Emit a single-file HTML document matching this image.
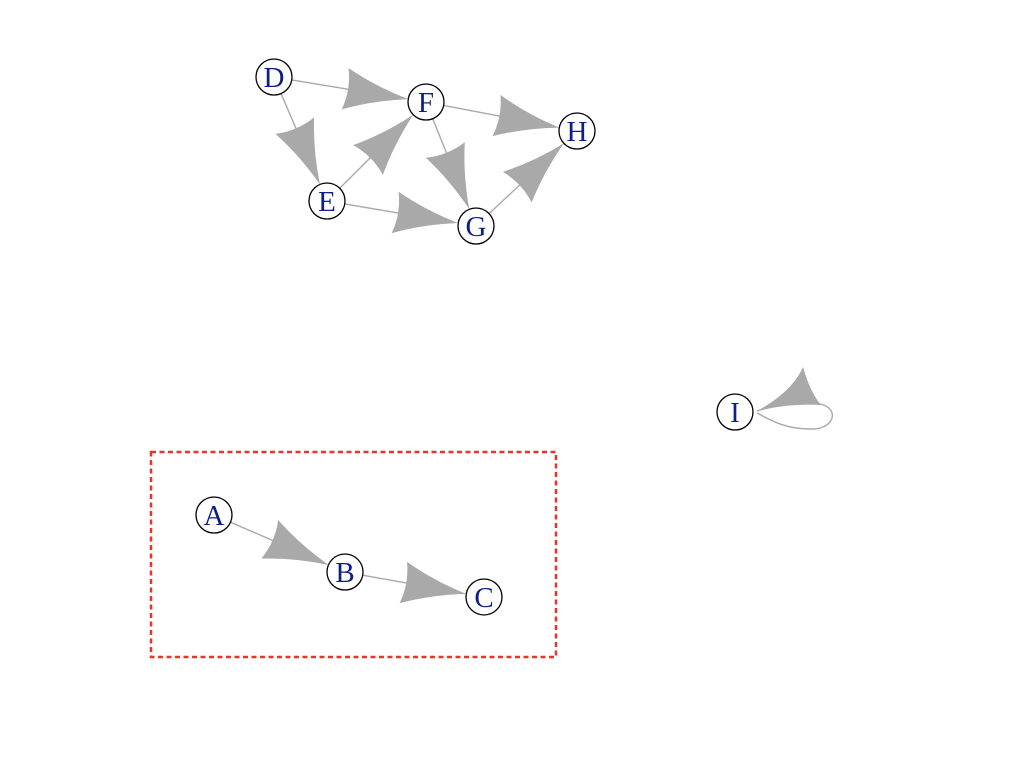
<!DOCTYPE html>
<html><head><meta charset="utf-8"><style>
html,body{margin:0;padding:0;background:#fff;}
svg{display:block;}
text{font-family:"Liberation Serif",serif;font-size:29px;fill:#0b1f86;text-anchor:middle;}
</style></head><body>
<svg id="s" width="1024" height="764" viewBox="0 0 1024 764" xmlns="http://www.w3.org/2000/svg">
<rect x="151" y="452" width="405" height="205" fill="none" stroke="#e8352a" stroke-width="2.5" stroke-dasharray="5,3.5"/>
<g id="edges"></g>
<path d="M757,411 Q792,392 803,367 Q810,392 821,405 Q790,403 757,411 Z" fill="#a9a9a9"/>
<path d="M757,411 Q790,400 820,404 C840,408 835,430 810,429 C785,429 770,420 757,413" fill="none" stroke="#a9a9a9" stroke-width="1.4"/>
<g id="nodes"></g>
</svg>
<script>
var N={D:[274,77],F:[426,102],H:[577,131],E:[327,201],G:[476,226],A:[214,515],B:[345,572],C:[484,597],I:[735,412]};
var E=[["D","F"],["D","E"],["E","F"],["E","G"],["F","G"],["F","H"],["G","H"],["A","B"],["B","C"]];
var r=18,eg="",ng="";
E.forEach(function(e){var a=N[e[0]],b=N[e[1]];var dx=b[0]-a[0],dy=b[1]-a[1],L=Math.hypot(dx,dy),ux=dx/L,uy=dy/L,nx=-uy,ny=ux;
var tx=b[0]-ux*r,ty=b[1]-uy*r,len=64,hw=21;var bx=tx-ux*len,by=ty-uy*len;
var sx=a[0]+ux*r,sy=a[1]+uy*r;
eg+='<line x1="'+sx+'" y1="'+sy+'" x2="'+(bx+ux*5)+'" y2="'+(by+uy*5)+'" stroke="#a9a9a9" stroke-width="1.4"/>';
var lx=bx+nx*hw,ly=by+ny*hw,rx=bx-nx*hw,ry=by-ny*hw;
var cx=tx-ux*34,cy=ty-uy*34;
var c1x=cx+nx*7,c1y=cy+ny*7,c2x=cx-nx*7,c2y=cy-ny*7;
var mx=bx+ux*6,my=by+uy*6;
eg+='<path d="M'+tx+','+ty+' Q'+c1x+','+c1y+' '+lx+','+ly+' Q'+mx+','+my+' '+rx+','+ry+' Q'+c2x+','+c2y+' '+tx+','+ty+'Z" fill="#a9a9a9"/>';});
for(var k in N){var p=N[k];ng+='<circle cx="'+p[0]+'" cy="'+p[1]+'" r="'+r+'" fill="#fff" stroke="#000" stroke-width="1.3"/><text x="'+p[0]+'" y="'+(p[1]+10)+'">'+k+'</text>';}
document.getElementById("edges").innerHTML=eg;document.getElementById("nodes").innerHTML=ng;
</script>
</body></html>
